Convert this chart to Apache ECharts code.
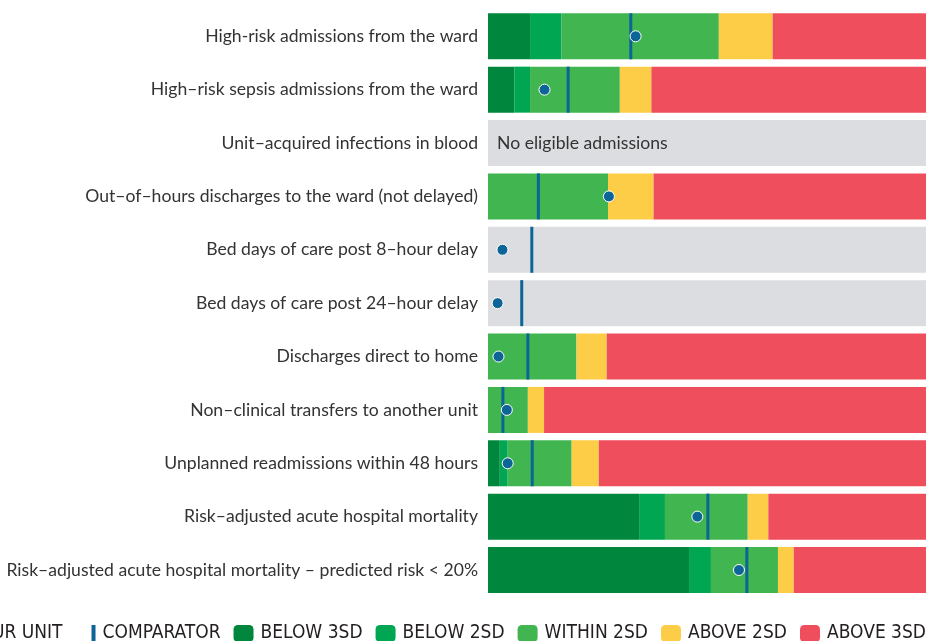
<!DOCTYPE html>
<html lang="en">

<head>
    <meta charset="UTF-8">
    <title>Unit quality indicators</title>
    <script src="https://cdn.jsdelivr.net/npm/echarts@6/dist/echarts.min.js"></script>
    <style>
        html, body { margin: 0; padding: 0; background: #fff; }
        #main { width: 926px; height: 641px; }
    </style>
</head>

<body>
    <div id="main"></div>
    <script>
        // indicator names, top to bottom
        var categories = [
            'High-risk admissions from the ward',
            'High–risk sepsis admissions from the ward',
            'Unit–acquired infections in blood',
            'Out–of–hours discharges to the ward (not delayed)',
            'Bed days of care post 8–hour delay',
            'Bed days of care post 24–hour delay',
            'Discharges direct to home',
            'Non–clinical transfers to another unit',
            'Unplanned readmissions within 48 hours',
            'Risk–adjusted acute hospital mortality',
            'Risk–adjusted acute hospital mortality – predicted risk < 20%'
        ];

        // band widths (share of the bar, 0-100)
        var below3sd = [9.6, 6.0, 0, 0, 0, 0, 0, 0, 2.7, 34.5, 45.9];
        var below2sd = [7.2, 3.6, 0, 0, 0, 0, 0, 0, 1.8, 5.9, 5.0];
        var within2sd = [35.9, 20.5, 0, 27.4, 0, 0, 20.2, 9.1, 14.6, 18.9, 15.3];
        var above2sd = [12.3, 7.2, 0, 10.4, 0, 0, 6.9, 3.7, 6.2, 4.7, 3.6];
        var above3sd = [35.0, 62.7, 0, 62.2, 0, 0, 72.9, 87.2, 74.7, 36.0, 30.2];
        var noBands = [0, 0, 100, 0, 100, 100, 0, 0, 0, 0, 0];

        // markers
        var yourUnit = [33.7, 12.9, null, 27.6, 3.3, 2.2, 2.4, 4.3, 4.5, 47.8, 57.3];
        var comparator = [32.6, 18.3, null, 11.5, 10.0, 7.7, 9.1, 3.4, 10.1, 50.2, 59.1];

        var noDataText = 'No eligible admissions';
        var legendNames = ['YOUR UNIT', 'COMPARATOR', 'BELOW 3SD', 'BELOW 2SD', 'WITHIN 2SD', 'ABOVE 2SD', 'ABOVE 3SD'];

        var labelFont = 'Lato, "Liberation Sans", sans-serif';
        var blue = '#0d6496';

        function toPoints(arr) {
            var out = [];
            arr.forEach(function (v, i) {
                if (v != null) out.push([v, i]);
            });
            return out;
        }

        function band(name, data, color) {
            return {
                name: name,
                type: 'bar',
                stack: 'all',
                barCategoryGap: '13.8%',
                itemStyle: { color: color },
                silent: true,
                data: data
            };
        }

        var greyData = noBands.map(function (v, i) {
            if (v && yourUnit[i] == null) {
                return {
                    value: v,
                    label: {
                        show: true,
                        position: 'insideLeft',
                        distance: 9,
                        formatter: noDataText,
                        color: '#333',
                        fontSize: 17.6,
                        fontFamily: labelFont
                    }
                };
            }
            return v;
        });

        // comparator key is a thin bar sitting at the right of its icon box
        var legendData = legendNames.map(function (n) {
            if (n === 'COMPARATOR') return { name: n, icon: 'path://M0,0h0.01v17h-0.01z M16,0h4v17h-4z' };
            return { name: n };
        });

        var myChart = echarts.init(document.getElementById('main'));
        var option = {
            animation: false,
            grid: { left: 488, right: 0, top: 9.6, bottom: 44.3, containLabel: false },
            xAxis: {
                type: 'value', min: 0, max: 100, show: false
            },
            yAxis: {
                type: 'category',
                inverse: true,
                data: categories,
                axisLine: { show: false },
                axisTick: { show: false },
                axisLabel: {
                    margin: 10,
                    color: '#333',
                    fontSize: 17.6,
                    fontFamily: labelFont
                }
            },
            legend: {
                data: legendData,
                right: 0,
                top: 624,
                width: 2000,
                padding: 0,
                itemWidth: 20,
                itemHeight: 17,
                itemGap: 13,
                symbolKeepAspect: true,
                selectedMode: false,
                textStyle: {
                    color: '#231f20',
                    fontSize: 19,
                    fontFamily: '"Liberation Sans Narrow", "DejaVu Sans Condensed", sans-serif',
                    padding: [0, 0, 0, 2]
                }
            },
            series: [
                band('BELOW 3SD', below3sd, '#00873d'),
                band('BELOW 2SD', below2sd, '#00a651'),
                band('WITHIN 2SD', within2sd, '#41b650'),
                band('ABOVE 2SD', above2sd, '#fecd47'),
                band('ABOVE 3SD', above3sd, '#ef4e5d'),
                {
                    name: 'none',
                    type: 'bar',
                    stack: 'all',
                    barCategoryGap: '13.8%',
                    itemStyle: { color: '#dcdde0' },
                    silent: true,
                    data: greyData
                },
                {
                    name: 'COMPARATOR',
                    type: 'scatter',
                    symbol: 'rect',
                    symbolSize: [3, 46],
                    itemStyle: { color: blue, opacity: 1 },
                    z: 3,
                    data: toPoints(comparator)
                },
                {
                    name: 'YOUR UNIT',
                    type: 'scatter',
                    symbol: 'circle',
                    symbolSize: 11,
                    itemStyle: { color: blue, opacity: 1, borderColor: '#fff', borderWidth: 1 },
                    z: 4,
                    data: toPoints(yourUnit)
                }
            ]
        };
        myChart.setOption(option);
    </script>
</body>

</html>
